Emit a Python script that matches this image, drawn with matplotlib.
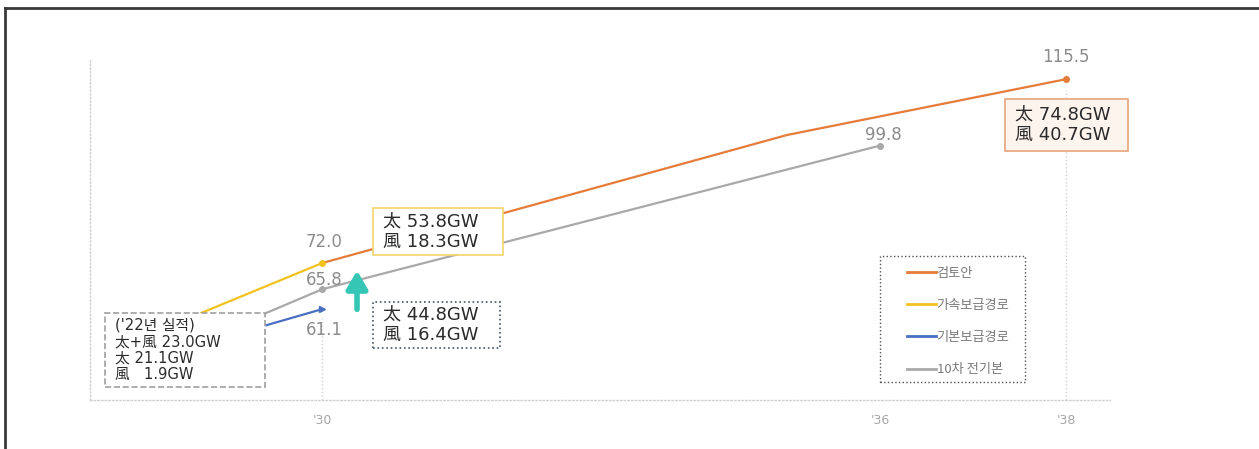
import matplotlib
matplotlib.use('Agg')
import matplotlib.pyplot as plt
from matplotlib.patches import Rectangle
from matplotlib.lines import Line2D

plt.rcParams['font.family'] = ['Noto Sans CJK KR', 'DejaVu Sans']

# solar + wind capacity paths (GW), x = year ('30 -> 30)
review_years = [30, 35, 38]
review_vals = [72.0, 102.3, 115.5]
fast_years = [28.7, 30]
fast_vals = [60.2, 72.0]
base_years = [29.4, 30]
base_vals = [57.3, 61.1]
plan10_years = [29.4, 30, 36]
plan10_vals = [60.2, 65.8, 99.8]

tick_years = [30, 36, 38]
tick_labels = ["'30", "'36", "'38"]
series_names = ['검토안', '가속보급경로', '기본보급경로', '10차 전기본']

ORANGE = '#E57C3A'
YELLOW = '#F2C21E'
BLUE = '#4A6FC0'
GRAY = '#A9A9A9'
LABEL = '#8C8C8C'
BOXFONT = ['DejaVu Sans', 'Noto Sans CJK KR']


def box(ax, x0, y0, x1, y1, text, edge, ls, face='white', fs=13, sp=1.17):
    ax.add_patch(Rectangle((x0, y0), x1 - x0, y1 - y0, facecolor=face,
                           edgecolor=edge, lw=1.2, ls=ls, zorder=5,
                           clip_on=False))
    ax.text(x0 + 0.11, (y0 + y1) / 2, text, ha='left', va='center',
            fontsize=fs, color='#2B2B2B', linespacing=sp, zorder=6,
            family=BOXFONT, clip_on=False)


def main():
    fig = plt.figure(figsize=(12.59, 4.49), dpi=100)
    ax = fig.add_axes([0.0715, 0.109, 0.810, 0.757])
    ax.set_xlim(27.505, 38.47)
    ax.set_ylim(39.6, 120)

    for s in ['top', 'right']:
        ax.spines[s].set_visible(False)
    for s in ['left', 'bottom']:
        ax.spines[s].set_color('#D0D0D0')
        ax.spines[s].set_linestyle(':')
        ax.spines[s].set_linewidth(1.0)
    ax.set_yticks([])
    ax.set_xticks(tick_years)
    ax.set_xticklabels(tick_labels, color='#A6A6A6', fontsize=9,
                       family='DejaVu Sans')
    ax.tick_params(axis='x', length=0, pad=10)

    # dotted year guides
    ax.plot([30, 30], [39.6, 58.9], ls=':', color='#D0D0D0', lw=1, zorder=1)
    ax.plot([38, 38], [39.6, 113.0], ls=':', color='#D0D0D0', lw=1, zorder=1)

    ax.plot(fast_years, fast_vals, color=YELLOW, lw=1.6, zorder=3)
    ax.plot(plan10_years, plan10_vals, color=GRAY, lw=1.6, zorder=3)
    ax.plot(base_years, base_vals, color=BLUE, lw=1.6, zorder=3)
    ax.plot(review_years, review_vals, color=ORANGE, lw=1.6, zorder=3)

    ax.plot(fast_years[-1], fast_vals[-1], 'o', color=YELLOW, ms=4, zorder=4)
    ax.plot(plan10_years[1], plan10_vals[1], 'o', color=GRAY, ms=4, zorder=4)
    ax.plot(plan10_years[-1], plan10_vals[-1], 'o', color=GRAY, ms=4, zorder=4)
    ax.plot(base_years[-1], base_vals[-1], '>', color=BLUE, ms=4, zorder=4)
    ax.plot(review_years[-1], review_vals[-1], 'o', color=ORANGE, ms=4,
            zorder=4, clip_on=False)

    lbl = dict(ha='center', va='center', fontsize=12, color=LABEL,
               family='DejaVu Sans', clip_on=False)
    ax.text(38, review_vals[-1] + 5.2, f'{review_vals[-1]:.1f}', **lbl)
    ax.text(36.03, plan10_vals[-1] + 2.6, f'{plan10_vals[-1]:.1f}', **lbl)
    ax.text(30.02, fast_vals[-1] + 5.0, f'{fast_vals[-1]:.1f}', **lbl)
    ax.text(30.02, plan10_vals[1] + 2.2, f'{plan10_vals[1]:.1f}', **lbl)
    ax.text(30.02, base_vals[-1] - 4.9, f'{base_vals[-1]:.1f}', **lbl)

    # increase arrow between the two 2030 paths
    ax.annotate('', xy=(30.376, 70.9), xytext=(30.376, 60.4),
                arrowprops=dict(arrowstyle='-|>,head_width=0.35,head_length=0.6',
                                lw=4, color='#36C6B5', mutation_scale=18),
                zorder=4)

    box(ax, 27.667, 42.7, 29.387, 60.18,
        "('22년 실적)\n太+風 23.0GW\n太 21.1GW\n風   1.9GW",
        '#A0A0A0', '--', fs=10.6, sp=1.12)
    box(ax, 30.548, 73.9, 31.946, 85.0, '太 53.8GW\n風 18.3GW',
        '#F2D46B', '-')
    box(ax, 30.548, 51.9, 31.914, 62.8, '太 44.8GW\n風 16.4GW',
        '#44546A', ':')
    box(ax, 37.344, 98.5, 38.667, 110.8, '太 74.8GW\n風 40.7GW',
        '#E8A37A', '-', face='#FDF4EE')

    # legend with its own dotted frame
    ax.add_patch(Rectangle((0.7745, 0.053), 0.1422, 0.3705,
                           transform=ax.transAxes, facecolor='white',
                           edgecolor='#505050', ls=':', lw=1.0, zorder=5,
                           clip_on=False))
    handles = [Line2D([], [], color=c, lw=2)
               for c in [ORANGE, YELLOW, BLUE, GRAY]]
    leg = ax.legend(handles, series_names, loc='upper left',
                    bbox_to_anchor=(0.801, 0.392), fontsize=9.5,
                    frameon=False, handlelength=2.2,
                    handletextpad=0.05, labelspacing=1.45, borderpad=0,
                    borderaxespad=0, labelcolor='#7A7A7A')
    leg.set_zorder(6)

    # page frame
    fig.add_artist(Line2D([0.004, 0.004], [0, 0.982], color='#3A3A3A', lw=2))
    fig.add_artist(Line2D([0.004, 1.0], [0.982, 0.982], color='#3A3A3A', lw=2))

    fig.savefig('out.png', dpi=100)


if __name__ == '__main__':
    main()
